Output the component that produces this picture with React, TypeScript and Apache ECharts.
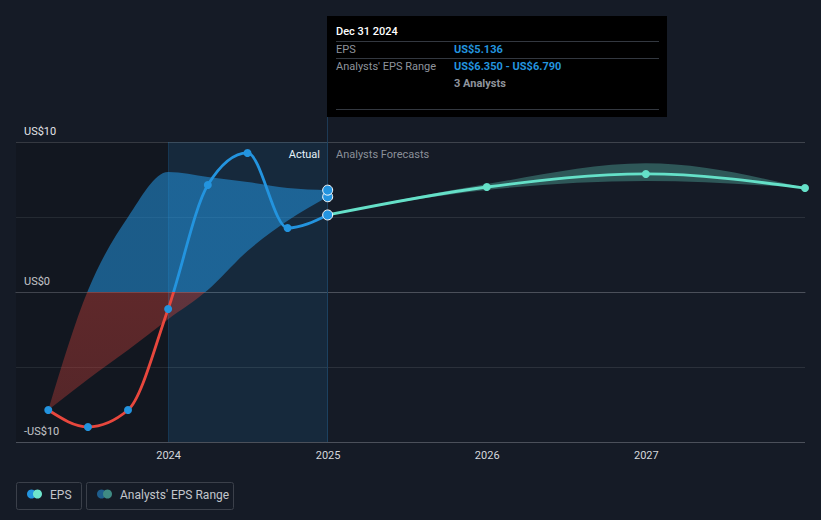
import React, { useEffect, useRef } from 'react';
import * as echarts from 'echarts';

const epsDates = ['2023-03-31', '2023-06-30', '2023-09-30', '2023-12-31', '2024-03-31', '2024-06-30', '2024-09-30', '2024-12-31'];
const epsValues = [-7.87, -9.0, -7.87, -1.13, 7.13, 9.27, 4.27, 5.136];
const pastRangeLow = [-7.87, -5.82, -3.87, -1.82, 0.13, 2.73, 4.75, 6.35];
const pastRangeHigh = [-7.87, 0.1, 5.0, 8.0, 7.67, 7.33, 6.93, 6.79];
const forecastDates = ['2024-12-31', '2025-12-31', '2026-12-31', '2027-12-31'];
const forecastValues = [5.136, 7.0, 7.87, 6.93];
const forecastLow = [5.136, 6.8, 7.4, 6.93];
const forecastHigh = [5.136, 7.2, 8.58, 6.93];
const yearTicks = ['2024-01-01', '2025-01-01', '2026-01-01', '2027-01-01'];
const yTickLabels: Record<string, string> = { '10': 'US$10', '0': 'US$0', '-10': '-US$10' };
const xMin = '2023-01-16';
const xMax = '2027-12-31';

const toTs = (s: string) => new Date(s + 'T00:00:00Z').getTime();
const FONT = 'Roboto, "Noto Sans", sans-serif';

type Pt = number[];

// monotone-x cubic segments (Fritsch–Carlson, like d3.curveMonotoneX)
function monotoneSegments(p: Pt[]) {
  const n = p.length;
  const m: number[] = [];
  for (let i = 0; i < n - 1; i++) {
    const dx = p[i + 1][0] - p[i][0];
    m.push(dx === 0 ? 0 : (p[i + 1][1] - p[i][1]) / dx);
  }
  const t: number[] = new Array(n).fill(0);
  for (let i = 1; i < n - 1; i++) {
    const h0 = p[i][0] - p[i - 1][0];
    const h1 = p[i + 1][0] - p[i][0];
    if (m[i - 1] * m[i] <= 0) t[i] = 0;
    else {
      const q = (m[i - 1] * h1 + m[i] * h0) / (h0 + h1);
      t[i] = (Math.sign(m[i - 1]) + Math.sign(m[i])) * Math.min(Math.abs(m[i - 1]), Math.abs(m[i]), 0.5 * Math.abs(q));
    }
  }
  if (n > 2) {
    t[0] = (3 * m[0] - t[1]) / 2;
    t[n - 1] = (3 * m[n - 2] - t[n - 2]) / 2;
  } else {
    t[0] = m[0];
    t[n - 1] = m[0];
  }
  const segs: number[][] = [];
  for (let i = 0; i < n - 1; i++) {
    const dx = (p[i + 1][0] - p[i][0]) / 3;
    segs.push([p[i][0] + dx, p[i][1] + t[i] * dx, p[i + 1][0] - dx, p[i + 1][1] - t[i + 1] * dx]);
  }
  return segs;
}

function linePath(p: Pt[]) {
  const s = monotoneSegments(p);
  let d = `M${p[0][0]},${p[0][1]}`;
  for (let i = 0; i < s.length; i++) {
    d += ` C${s[i][0]},${s[i][1]} ${s[i][2]},${s[i][3]} ${p[i + 1][0]},${p[i + 1][1]}`;
  }
  return d;
}

function bandPath(up: Pt[], lo: Pt[]) {
  const sl = monotoneSegments(lo);
  let d = linePath(up);
  const n = lo.length;
  d += ` L${lo[n - 1][0]},${lo[n - 1][1]}`;
  for (let i = sl.length - 1; i >= 0; i--) {
    const s = sl[i];
    d += ` C${s[2]},${s[3]} ${s[0]},${s[1]} ${lo[i][0]},${lo[i][1]}`;
  }
  return d + ' Z';
}

const bandRender = (dates: string[], lows: number[], highs: number[], fill: any) => (params: any, api: any) => {
  if (params.dataIndex !== 0) return null;
  const up = dates.map((d, i) => api.coord([toTs(d), highs[i]]));
  const lo = dates.map((d, i) => api.coord([toTs(d), lows[i]]));
  return { type: 'path', shape: { pathData: bandPath(up, lo) }, style: { fill } };
};

const lineRender = (dates: string[], values: number[], stroke: any) => (params: any, api: any) => {
  if (params.dataIndex !== 0) return null;
  const pts = dates.map((d, i) => api.coord([toTs(d), values[i]]));
  return { type: 'path', shape: { pathData: linePath(pts) }, style: { fill: 'none', stroke, lineWidth: 2.8, lineJoin: 'round', lineCap: 'round' } };
};

export default function App() {
  const ref = useRef<HTMLDivElement>(null);
  useEffect(() => {
    if (!ref.current) return;
    const chart = echarts.init(ref.current, undefined, { renderer: 'svg' });
    const gTop = 142;
    const gBottom = 442;
    const lineGrad = new echarts.graphic.LinearGradient(0, gTop, 0, gBottom, [
      { offset: 0, color: '#2394df' },
      { offset: 0.5, color: '#2394df' },
      { offset: 0.5, color: '#e8473d' },
      { offset: 1, color: '#e8473d' },
    ], true);
    const areaGrad = new echarts.graphic.LinearGradient(0, gTop, 0, gBottom, [
      { offset: 0, color: 'rgba(35,148,223,0.55)' },
      { offset: 0.5, color: 'rgba(35,148,223,0.55)' },
      { offset: 0.5, color: 'rgba(232,71,61,0.36)' },
      { offset: 1, color: 'rgba(232,71,61,0.3)' },
    ], true);

    const last = epsDates.length - 1;
    const option: any = {
      animation: false,
      backgroundColor: '#151b26',
      textStyle: { fontFamily: FONT },
      grid: { left: 16, right: 16, top: gTop, bottom: 520 - gBottom, containLabel: false },
      xAxis: {
        type: 'value',
        min: toTs(xMin),
        max: toTs(xMax),
        axisLine: { lineStyle: { color: '#4b505a' } },
        axisTick: { show: false },
        splitLine: { show: false },
        axisLabel: {
          customValues: yearTicks.map(toTs),
          formatter: (v: number) => String(new Date(v).getUTCFullYear()),
          color: '#d4d7dc',
          fontSize: 11,
          fontFamily: FONT,
          margin: 8,
        },
      },
      yAxis: {
        type: 'value',
        min: -10,
        max: 10,
        interval: 5,
        axisLine: { show: false },
        axisTick: { show: false },
        axisLabel: {
          inside: true,
          formatter: (v: number) => yTickLabels[String(v)] || '',
          color: '#e2e4e8',
          fontSize: 11,
          fontFamily: FONT,
          verticalAlign: 'bottom',
          margin: 8,
          padding: [0, 0, 5, 0],
        },
        splitLine: { lineStyle: { color: ['#4b505a', '#2b313b', '#ffffff', '#2b313b', '#3e434c'], width: 1 } },
      },
      series: [
        {
          name: 'pastRange',
          type: 'custom',
          clip: true,
          z: 2,
          encode: { x: 0, y: [1, 2] },
          data: epsDates.map((d, i) => [toTs(d), pastRangeLow[i], pastRangeHigh[i]]),
          renderItem: bandRender(epsDates, pastRangeLow, pastRangeHigh, areaGrad),
          markArea: {
            silent: true,
            data: [
              [{ xAxis: toTs(xMin), itemStyle: { color: 'rgba(0,0,0,0.14)' } }, { xAxis: toTs(yearTicks[0]) }],
              [{ xAxis: toTs(yearTicks[0]), itemStyle: { color: 'rgba(35,148,223,0.12)' } }, { xAxis: toTs(epsDates[last]) }],
            ],
          },
          markLine: {
            silent: true,
            symbol: 'none',
            label: { show: false },
            lineStyle: { color: 'rgba(35,148,223,0.22)', type: 'solid', width: 1 },
            data: [{ xAxis: toTs(yearTicks[0]) }],
          },
        },
        {
          name: 'fcRange',
          type: 'custom',
          clip: true,
          z: 2,
          encode: { x: 0, y: [1, 2] },
          data: forecastDates.map((d, i) => [toTs(d), forecastLow[i], forecastHigh[i]]),
          renderItem: bandRender(forecastDates, forecastLow, forecastHigh, 'rgba(96,210,190,0.33)'),
        },
        {
          name: 'forecastLine',
          type: 'custom',
          clip: true,
          z: 3,
          encode: { x: 0, y: 1 },
          data: forecastDates.map((d, i) => [toTs(d), forecastValues[i]]),
          renderItem: lineRender(forecastDates, forecastValues, '#65e0c8'),
        },
        {
          name: 'epsLine',
          type: 'custom',
          clip: true,
          z: 4,
          encode: { x: 0, y: 1 },
          data: epsDates.map((d, i) => [toTs(d), epsValues[i]]),
          renderItem: lineRender(epsDates, epsValues, lineGrad),
        },
        {
          name: 'forecastPoints',
          type: 'scatter',
          symbolSize: 8,
          itemStyle: { color: '#65e0c8', opacity: 1 },
          data: forecastDates.slice(1).map((d, i) => [toTs(d), forecastValues[i + 1]]),
          z: 5,
        },
        {
          name: 'EPS',
          type: 'scatter',
          symbolSize: 8,
          itemStyle: { color: '#2394df', opacity: 1 },
          data: epsDates.map((d, i) =>
            i === last
              ? { value: [toTs(d), epsValues[i]], symbolSize: 10, itemStyle: { color: '#2394df', borderColor: '#ffffff', borderWidth: 1, opacity: 1 } }
              : [toTs(d), epsValues[i]]
          ),
          z: 6,
        },
        {
          name: 'rangeEnds',
          type: 'scatter',
          symbolSize: 10,
          itemStyle: { color: '#2394df', borderColor: '#ffffff', borderWidth: 1, opacity: 1 },
          data: [
            [toTs(epsDates[last]), pastRangeLow[last]],
            [toTs(epsDates[last]), pastRangeHigh[last]],
          ],
          z: 6,
        },
      ],
      graphic: [
        { type: 'line', z: 1, silent: true, shape: { x1: 327.5, y1: 117, x2: 327.5, y2: 442 }, style: { stroke: '#1d3a55', lineWidth: 1 } },
        { type: 'text', x: 320, y: 154, style: { text: 'Actual', fill: '#ffffff', font: `11px ${FONT}`, textAlign: 'right', textVerticalAlign: 'middle' } },
        { type: 'text', x: 336, y: 154, style: { text: 'Analysts Forecasts', fill: '#8b9099', font: `11px ${FONT}`, textAlign: 'left', textVerticalAlign: 'middle' } },
        {
          type: 'group',
          children: [
            { type: 'rect', shape: { x: 327, y: 16, width: 340, height: 101 }, style: { fill: '#000000' } },
            { type: 'text', x: 336, y: 31, style: { text: 'Dec 31 2024', fill: '#ffffff', font: `500 11px ${FONT}`, textVerticalAlign: 'middle' } },
            { type: 'line', shape: { x1: 336, y1: 41.5, x2: 659, y2: 41.5 }, style: { stroke: '#333840', lineWidth: 1 } },
            { type: 'text', x: 336, y: 49, style: { text: 'EPS', fill: '#8f949c', font: `11px ${FONT}`, textVerticalAlign: 'middle' } },
            { type: 'text', x: 454, y: 49, style: { text: 'US$5.136', fill: '#2394df', font: `bold 11px ${FONT}`, textVerticalAlign: 'middle' } },
            { type: 'line', shape: { x1: 336, y1: 58.5, x2: 659, y2: 58.5 }, style: { stroke: '#333840', lineWidth: 1 } },
            { type: 'text', x: 336, y: 66, style: { text: "Analysts' EPS Range", fill: '#8f949c', font: `11px ${FONT}`, textVerticalAlign: 'middle' } },
            { type: 'text', x: 454, y: 66, style: { text: 'US$6.350 - US$6.790', fill: '#2394df', font: `bold 11px ${FONT}`, textVerticalAlign: 'middle' } },
            { type: 'text', x: 454, y: 83, style: { text: '3 Analysts', fill: '#8f949c', font: `bold 11px ${FONT}`, textVerticalAlign: 'middle' } },
            { type: 'line', shape: { x1: 336, y1: 109.5, x2: 659, y2: 109.5 }, style: { stroke: '#333840', lineWidth: 1 } },
          ],
        },
        {
          type: 'group',
          children: [
            { type: 'rect', shape: { x: 16.5, y: 482.5, width: 65, height: 27, r: 2 }, style: { fill: 'none', stroke: '#3b404a', lineWidth: 1 } },
            { type: 'circle', shape: { cx: 31.5, cy: 494, r: 4.5 }, style: { fill: '#2394df' } },
            { type: 'circle', shape: { cx: 37.5, cy: 494, r: 4.5 }, style: { fill: '#6ee5cc' } },
            { type: 'text', x: 50, y: 495, style: { text: 'EPS', fill: '#c3c6cc', font: `12px ${FONT}`, textVerticalAlign: 'middle' } },
            { type: 'rect', shape: { x: 86.5, y: 482.5, width: 147, height: 27, r: 2 }, style: { fill: 'none', stroke: '#3b404a', lineWidth: 1 } },
            { type: 'circle', shape: { cx: 101.5, cy: 494, r: 4.5 }, style: { fill: '#1e5d8c' } },
            { type: 'circle', shape: { cx: 107.5, cy: 494, r: 4.5 }, style: { fill: '#3f8a83' } },
            { type: 'text', x: 120, y: 495, style: { text: "Analysts' EPS Range", fill: '#c3c6cc', font: `12px ${FONT}`, textVerticalAlign: 'middle' } },
          ],
        },
      ],
    };
    chart.setOption(option);
    return () => chart.dispose();
  }, []);
  return <div ref={ref} style={{ width: 821, height: 520, position: 'absolute', left: 0, top: 0 }} />;
}
